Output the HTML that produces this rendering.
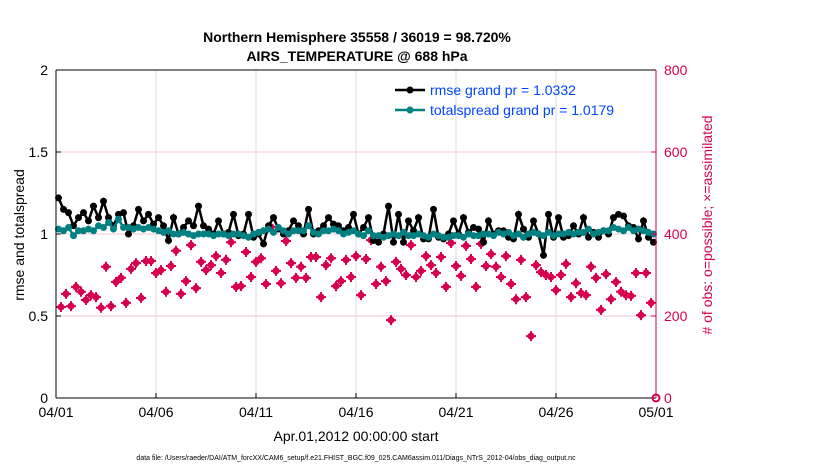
<!DOCTYPE html>
<html><head><meta charset="utf-8"><style>
body{margin:0;background:#fff;font-family:"Liberation Sans",sans-serif;}
svg text{font-family:"Liberation Sans",sans-serif;}
</style></head><body>
<svg id="chart" width="830" height="470" xmlns="http://www.w3.org/2000/svg">
<rect width="830" height="470" fill="#fff"/>
<g id="grid"></g>
<g id="series"></g>
<g id="axes"></g>
<text x="357" y="42" text-anchor="middle" font-size="14" font-weight="bold">Northern Hemisphere 35558 / 36019 = 98.720%</text>
<text x="357" y="61" text-anchor="middle" font-size="14" font-weight="bold">AIRS_TEMPERATURE @ 688 hPa</text>
<text transform="translate(24,235) rotate(-90)" text-anchor="middle" font-size="14">rmse and totalspread</text>
<text transform="translate(712,225) rotate(-90)" text-anchor="middle" font-size="14" fill="#d6004f"># of obs: o=possible; ×=assimilated</text>
<text x="356" y="441" text-anchor="middle" font-size="14">Apr.01,2012 00:00:00 start</text>
<text x="356" y="460" text-anchor="middle" font-size="7">data file: /Users/raeder/DAI/ATM_forcXX/CAM6_setup/f.e21.FHIST_BGC.f09_025.CAM6assim.011/Diags_NTrS_2012-04/obs_diag_output.nc</text>
<g>
<line x1="395" y1="90" x2="425" y2="90" stroke="#000" stroke-width="2.5"/><circle cx="410" cy="90" r="3.5" fill="#000"/>
<text x="430" y="95" font-size="14" fill="#0044ff">rmse grand pr = 1.0332</text>
<line x1="395" y1="110" x2="425" y2="110" stroke="#008080" stroke-width="2.5"/><circle cx="410" cy="110" r="3.5" fill="#008080"/>
<text x="430" y="115" font-size="14" fill="#0044ff">totalspread grand pr = 1.0179</text>
</g>
</svg>
<script>
const rmse=[1.22,1.15,1.13,1.05,1.10,1.13,1.08,1.17,1.10,1.20,1.10,1.05,1.12,1.13,1.00,1.05,1.15,1.08,1.12,1.06,1.10,1.05,0.96,1.10,1.00,1.04,1.08,1.05,1.17,1.05,1.03,1.00,1.08,1.00,1.01,1.12,0.99,1.00,1.12,0.98,1.00,0.94,1.05,1.10,1.03,1.00,1.02,1.08,1.05,1.00,1.15,1.00,1.02,1.05,1.10,1.06,1.05,1.02,1.04,1.12,1.00,1.04,1.10,0.96,0.95,1.00,1.17,0.95,1.12,0.95,1.08,1.02,1.10,0.97,0.97,1.15,0.98,0.97,1.00,1.08,1.00,1.10,1.01,1.04,1.03,0.95,1.08,1.00,1.02,1.02,0.98,0.97,1.12,1.03,0.98,1.08,1.00,0.87,1.12,0.98,1.10,0.98,0.99,1.05,1.00,1.10,0.98,1.01,0.98,1.02,1.00,1.10,1.12,1.11,1.05,1.04,0.97,1.08,0.98,0.95];
const spread=[1.03,1.02,1.04,0.99,1.02,1.02,1.03,1.02,1.05,1.04,1.07,1.03,1.09,1.04,1.04,1.03,1.04,1.03,1.04,1.03,1.02,1.01,1.02,1.00,1.00,1.01,1.00,0.99,1.00,1.00,1.00,0.99,1.00,1.00,0.99,1.00,1.00,0.99,0.98,1.00,1.01,1.02,1.03,1.01,1.04,1.02,1.00,1.02,1.02,1.02,1.05,1.01,1.00,1.02,1.02,1.03,1.02,1.00,1.01,1.02,1.00,0.99,1.02,0.99,0.99,0.98,0.99,1.00,0.99,1.01,0.99,0.99,1.00,0.99,0.98,1.00,0.99,0.98,0.98,0.99,0.99,0.98,1.00,0.99,0.99,1.00,1.00,0.99,1.01,1.00,1.01,0.99,1.00,0.98,1.00,1.01,1.00,0.99,1.01,0.99,1.00,1.00,1.01,1.00,1.01,1.01,1.03,1.00,1.01,1.02,1.02,1.04,1.03,1.02,1.04,1.02,1.03,1.02,1.01,1.00];
const obs=[222,254,224,271,259,239,251,246,220,320,224,283,293,232,315,329,244,334,334,305,312,259,322,359,254,285,373,268,332,312,324,346,305,337,380,271,273,356,295,332,341,278,417,310,280,383,329,293,320,293,344,344,246,324,341,273,285,337,295,346,251,339,385,278,320,285,190,332,315,300,373,295,310,346,324,305,344,271,378,322,298,371,339,271,376,322,351,320,295,346,278,241,337,246,151,324,307,300,295,263,300,327,246,280,256,251,320,293,215,302,241,283,259,251,249,305,202,305,232];
const xTicks=["04/01","04/06","04/11","04/16","04/21","04/26","05/01"];
const yTicks=[0,0.5,1,1.5,2];
const y2Ticks=[0,200,400,600,800];
const NS="http://www.w3.org/2000/svg";
const X0=56,X1=656,Y0=398,Y1=70;
const xs=i=>X0+(i+0.5)*(X1-X0)/120;
const xo=i=>X0+(i+1)*(X1-X0)/120;
const xd=d=>X0+d*(X1-X0)/30;
const ys=v=>Y0-(v/2)*(Y0-Y1);
const y2=v=>Y0-(v/800)*(Y0-Y1);
function mk(tag,attrs,parent){const e=document.createElementNS(NS,tag);for(const k in attrs)e.setAttribute(k,attrs[k]);parent.appendChild(e);return e;}
const grid=document.getElementById('grid'),ser=document.getElementById('series'),ax=document.getElementById('axes');
xTicks.forEach((t,i)=>{const x=xd(i*5);
 if(i>0&&i<6){const l=mk('line',{x1:x,x2:x,y1:Y1,y2:Y0,stroke:'#dcdcdc','stroke-width':1},grid);
 
 }
 const tx=mk('text',{x:x,y:Y0+19,'text-anchor':'middle','font-size':14},ax);tx.textContent=t;
 
 
 mk('line',{x1:x,x2:x,y1:Y0,y2:Y0-5,stroke:'#000'},ax);});
yTicks.forEach(v=>{const y=ys(v);
 if(v>0&&v<2){const l=mk('line',{x1:X0,x2:X1,y1:y,y2:y,stroke:'#f5c6d6','stroke-width':1},grid);
 
 }
 const tx=mk('text',{x:X0-8,y:y+5,'text-anchor':'end','font-size':14},ax);tx.textContent=v;
 
 
 mk('line',{x1:X0,x2:X0+5,y1:y,y2:y,stroke:'#000'},ax);});
y2Ticks.forEach(v=>{const y=y2(v);
 const tx=mk('text',{x:X1+8,y:y+5,'font-size':14,fill:'#d6004f'},ax);tx.textContent=v;
 
 
 mk('line',{x1:X1,x2:X1-5,y1:y,y2:y,stroke:'#d6004f'},ax);});
mk('line',{x1:X0,x2:X1,y1:Y1,y2:Y1,stroke:'#000'},ax);
mk('line',{x1:X0,x2:X1,y1:Y0,y2:Y0,stroke:'#000'},ax);
mk('line',{x1:X0,x2:X0,y1:Y1,y2:Y0,stroke:'#000'},ax);
mk('line',{x1:X1,x2:X1,y1:Y1,y2:Y0,stroke:'#d6004f'},ax);
mk('circle',{cx:X1,cy:Y0,r:3.5,fill:'none',stroke:'#d6004f','stroke-width':2},ax);
obs.forEach((v,i)=>{const x=xo(i),y=y2(v);
 const g=mk('g',{},ser);
 
 
 mk('circle',{cx:x,cy:y,r:3,fill:'#d6004f',stroke:'#d6004f','stroke-width':1},g);
 mk('path',{d:`M${x-5} ${y}H${x+5}M${x} ${y-5}V${y+5}`,stroke:'#d6004f','stroke-width':2},g);});
function line(arr,col,name){
 const p=mk('polyline',{points:arr.map((v,i)=>xs(i)+','+ys(v)).join(' '),fill:'none',stroke:col,'stroke-width':2.5},ser);
 
 
 arr.forEach((v,i)=>{const c=mk('circle',{cx:xs(i),cy:ys(v),r:3.5,fill:col},ser);
 
 });}
line(rmse,'#000','rmse');
line(spread,'#008080','spread');
</script>
</body></html>
